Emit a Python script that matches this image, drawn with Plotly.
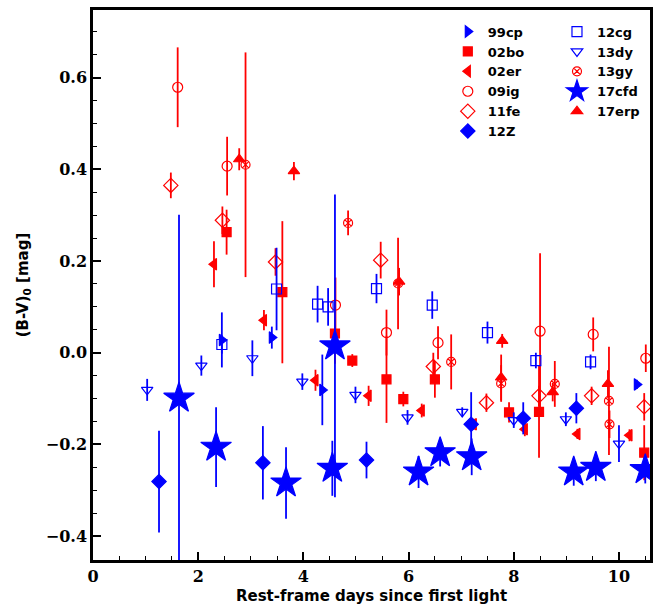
import plotly.graph_objects as go

# ---- data ----
x_99cp = [2.45, 3.40, 4.36, 10.34]
y_99cp = [0.028, 0.033, -0.081, -0.069]
e_99cp = [0.06, 0.024, 0.077, 0.01]

x_02bo = [2.54, 3.60, 4.60, 4.93, 5.58, 5.90, 6.50, 7.91, 8.48, 10.48]
y_02bo = [0.263, 0.132, 0.042, -0.017, -0.058, -0.101, -0.058, -0.130, -0.129, -0.218]
e_02bo = [0.049, 0.155, 0.066, 0.014, 0.095, 0.016, 0.04, 0.022, 0.10, 0.06]

x_02er = [2.30, 3.25, 4.23, 5.24, 6.25, 7.24, 8.21, 9.21, 10.20]
y_02er = [0.193, 0.071, -0.060, -0.094, -0.126, -0.156, -0.167, -0.177, -0.180]
e_02er = [0.05, 0.022, 0.023, 0.022, 0.015, 0.012, 0.015, 0.011, 0.013]

x_09ig = [1.61, 2.55, 4.61, 5.58, 6.56, 8.50, 9.51, 10.51]
y_09ig = [0.579, 0.407, 0.104, 0.044, 0.022, 0.047, 0.040, -0.012]
e_09ig = [0.087, 0.064, 0.06, 0.05, 0.036, 0.17, 0.037, 0.03]

x_11fe = [1.48, 2.46, 3.47, 5.47, 6.47, 7.48, 8.48, 9.48, 10.48]
y_11fe = [0.365, 0.289, 0.198, 0.202, -0.030, -0.109, -0.094, -0.094, -0.118]
e_11fe = [0.028, 0.03, 0.03, 0.04, 0.03, 0.02, 0.022, 0.02, 0.03]

x_12Z = [1.255, 3.23, 5.20, 7.19, 8.18, 9.19]
y_12Z = [-0.281, -0.240, -0.234, -0.156, -0.143, -0.121]
e_12Z = [0.111, 0.08, 0.04, 0.07, 0.035, 0.033]

x_12cg = [2.45, 3.49, 4.27, 4.47, 5.39, 6.45, 7.50, 8.42, 9.46]
y_12cg = [0.018, 0.139, 0.106, 0.100, 0.140, 0.104, 0.044, -0.017, -0.020]
e_12cg = [0.02, 0.09, 0.04, 0.041, 0.032, 0.03, 0.024, 0.017, 0.016]

x_13dy = [1.03, 2.06, 3.03, 3.98, 4.99, 5.98, 7.02, 8.00, 8.99, 10.00]
y_13dy = [-0.081, -0.028, -0.012, -0.063, -0.092, -0.141, -0.129, -0.147, -0.145, -0.198]
e_13dy = [0.024, 0.022, 0.039, 0.018, 0.018, 0.016, 0.01, 0.017, 0.015, 0.04]

x_13gy = [2.90, 4.85, 5.80, 6.81, 7.76, 8.78, 9.81, 9.82]
y_13gy = [0.410, 0.283, 0.151, -0.020, -0.067, -0.068, -0.105, -0.156]
e_13gy = [0.245, 0.027, 0.10, 0.06, 0.04, 0.05, 0.118, 0.03]

x_17cfd = [1.635, 2.34, 3.67, 4.60, 4.55, 6.19, 6.60, 7.20, 9.14, 9.56, 10.50]
y_17cfd = [-0.099, -0.206, -0.284, 0.015, -0.252, -0.260, -0.218, -0.227, -0.260, -0.250, -0.255]
e_17cfd = [0.40, 0.087, 0.078, 0.33, 0.06, 0.035, 0.03, 0.04, 0.03, 0.03, 0.03]

x_17erp = [2.78, 3.82, 5.82, 7.76, 7.78, 8.74, 9.79]
y_17erp = [0.422, 0.396, 0.155, -0.054, 0.026, -0.086, -0.068]
e_17erp = [0.024, 0.02, 0.03, 0.05, 0.015, 0.02, 0.03]

x_ticks = [0, 2, 4, 6, 8, 10]
y_ticks = [-0.4, -0.2, 0.0, 0.2, 0.4, 0.6]

RED = "#ff0000"
BLUE = "#0000ff"

series = [
    # name, x, y, err, color, symbol, size, legend
    ("99cp", x_99cp, y_99cp, e_99cp, BLUE, "triangle-right", 10, "legend"),
    ("02bo", x_02bo, y_02bo, e_02bo, RED, "square", 9, "legend"),
    ("02er", x_02er, y_02er, e_02er, RED, "triangle-left", 10, "legend"),
    ("09ig", x_09ig, y_09ig, e_09ig, RED, "circle-open", 10, "legend"),
    ("11fe", x_11fe, y_11fe, e_11fe, RED, "diamond-open", 11, "legend"),
    ("12Z", x_12Z, y_12Z, e_12Z, BLUE, "diamond", 11, "legend"),
    ("12cg", x_12cg, y_12cg, e_12cg, BLUE, "square-open", 10, "legend2"),
    ("13dy", x_13dy, y_13dy, e_13dy, BLUE, "triangle-down-open", 10, "legend2"),
    ("13gy", x_13gy, y_13gy, e_13gy, RED, "circle-x-open", 9, "legend2"),
    ("17cfd", x_17cfd, y_17cfd, e_17cfd, BLUE, "star", 23, "legend2"),
    ("17erp", x_17erp, y_17erp, e_17erp, RED, "triangle-up", 10, "legend2"),
]

fig = go.Figure()
for name, xs, ys, es, col, sym, size, leg in series:
    fig.add_trace(go.Scatter(
        x=xs, y=ys, mode="markers", name=name, legend=leg,
        marker=dict(symbol=sym, size=size, color=col,
                    line=dict(color=col, width=1.2)),
        error_y=dict(type="data", array=es, visible=True, color=col,
                     thickness=1.8, width=0),
    ))

legfont = dict(family="DejaVu Sans", size=13, color="black", weight="bold")
fig.update_layout(
    width=655, height=610,
    margin=dict(l=93, r=5, t=10, b=50),
    paper_bgcolor="white", plot_bgcolor="white",
    showlegend=True,
    legend=dict(x=0.637, y=0.988, xanchor="left", yanchor="top",
                bgcolor="rgba(0,0,0,0)", font=legfont, tracegroupgap=0),
    legend2=dict(x=0.833, y=0.988, xanchor="left", yanchor="top",
                 bgcolor="rgba(0,0,0,0)", font=legfont, tracegroupgap=0),
    xaxis=dict(
        range=[0, 10.59], tickvals=x_ticks, ticktext=[str(v) for v in x_ticks],
        automargin=False,
        ticks="inside", ticklen=8, tickwidth=1.5, tickcolor="black",
        showline=True, linewidth=2.5, linecolor="black", mirror=True,
        showgrid=False, zeroline=False,
        tickfont=dict(family="DejaVu Serif", size=16, color="black", weight="bold"),
        minor=dict(dtick=0.5, ticks="inside", ticklen=4, tickwidth=1.2, tickcolor="black", showgrid=False),
        title=dict(text="Rest-frame days since first light", standoff=6,
                   font=dict(family="DejaVu Sans", size=15, color="black", weight="bold")),
    ),
    yaxis=dict(
        range=[-0.452, 0.7475], tickvals=y_ticks, tickformat=".1f",
        automargin=False,
        ticks="inside", ticklen=8, tickwidth=1.5, tickcolor="black",
        showline=True, linewidth=2.5, linecolor="black", mirror=True,
        showgrid=False, zeroline=False,
        tickfont=dict(family="DejaVu Serif", size=16, color="black", weight="bold"),
        minor=dict(dtick=0.05, ticks="inside", ticklen=4, tickwidth=1.2, tickcolor="black", showgrid=False),
        title=dict(text="(B-V)<sub>0</sub> [mag]", standoff=14,
                   font=dict(family="DejaVu Sans", size=15, color="black", weight="bold")),
    ),
)

fig.write_html(
    "out.html",
    config={"displayModeBar": False},
    post_script="document.body.style.margin='0';document.body.style.padding='0';document.body.style.overflow='hidden';",
)
